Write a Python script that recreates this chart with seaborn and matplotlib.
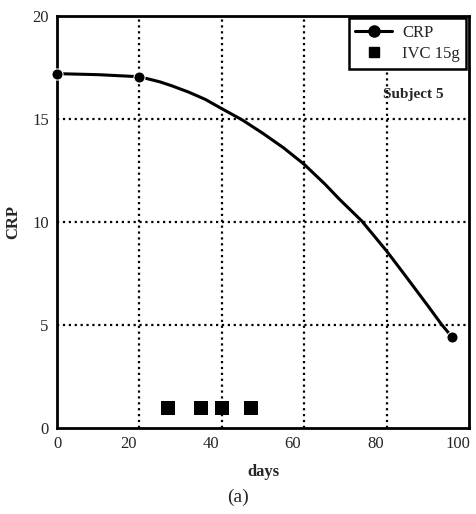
import matplotlib.pyplot as plt
import matplotlib.transforms as mtransforms
import pandas as pd
import seaborn as sns
from matplotlib.lines import Line2D

sns.set_style("white")
plt.rcParams['font.family'] = ['Liberation Serif', 'DejaVu Serif']

crp_days = [0, 10, 20, 25, 28, 32, 36, 40, 45, 50, 55, 60, 65, 68.6, 74, 80, 84, 87, 90, 93.3, 96]
crp_values = [17.2, 17.15, 17.05, 16.8, 16.6, 16.3, 15.95, 15.5, 14.95, 14.3, 13.6, 12.8,
              11.85, 11.1, 10.05, 8.6, 7.55, 6.75, 5.95, 5.05, 4.4]
crp_measured = [0, 2, 20]

# IVC 15g infusion days
ivc_days = [27, 35, 40, 47]
ivc_level = [1, 1, 1, 1]

x_ticks = [0, 20, 40, 60, 80, 100]
y_ticks = [0, 5, 10, 15, 20]

df_crp = pd.DataFrame({"days": crp_days, "CRP": crp_values})
df_ivc = pd.DataFrame({"days": ivc_days, "CRP": ivc_level})

fig = plt.figure(figsize=(4.76, 5.14), dpi=100)
ax = fig.add_axes([0.12, 0.167, 0.865, 0.802])

# grid lines
for x in x_ticks[1:-1]:
    ax.axvline(x, color="black", linestyle=":", linewidth=1.6, zorder=1)
for y in y_ticks[1:-1]:
    ax.axhline(y, color="black", linestyle=":", linewidth=1.6, zorder=1)

sns.lineplot(data=df_crp, x="days", y="CRP", ax=ax, color="black", linewidth=2.2,
             marker="o", markersize=8, markevery=crp_measured, zorder=3, clip_on=False)
sns.scatterplot(data=df_ivc, x="days", y="CRP", ax=ax, color="black", marker="s",
                s=90, linewidth=0, zorder=3)

ax.set_xlim(0, 100)
ax.set_ylim(0, 20)
ax.set_xticks(x_ticks)
ax.set_yticks(y_ticks)
ax.tick_params(length=0, labelsize=12, pad=6)
for s in ax.spines.values():
    s.set_color("black")
    s.set_linewidth(2)

# x tick labels sit a little left of their grid lines in the original
shift = mtransforms.ScaledTranslation(-8 / 72, 0, fig.dpi_scale_trans)
for lab in ax.get_xticklabels()[1:]:
    lab.set_transform(lab.get_transform() + shift)

ax.set_xlabel("days", fontsize=12, fontweight="bold", labelpad=8)
ax.set_ylabel("CRP", fontsize=12, fontweight="bold", labelpad=8)

ax.text(86.5, 16.2, "Subject 5", fontsize=11, fontweight="bold", ha="center", va="center")

handles = [
    Line2D([], [], color="black", linewidth=2.2, marker="o", markersize=8),
    Line2D([], [], color="black", linestyle="none", marker="s", markersize=7),
]
leg = ax.legend(handles, ["CRP", "IVC 15g"], loc="upper right", fontsize=12,
                frameon=True, fancybox=False, framealpha=1, borderaxespad=0.15,
                handlelength=2.2, handletextpad=0.6, borderpad=0.4, labelspacing=0.3)
leg.get_frame().set_edgecolor("black")
leg.get_frame().set_linewidth(1.8)
leg.set_zorder(5)

fig.text(0.5, 0.033, "(a)", fontsize=14, ha="center", va="center")

plt.savefig("out.png", dpi=100)
